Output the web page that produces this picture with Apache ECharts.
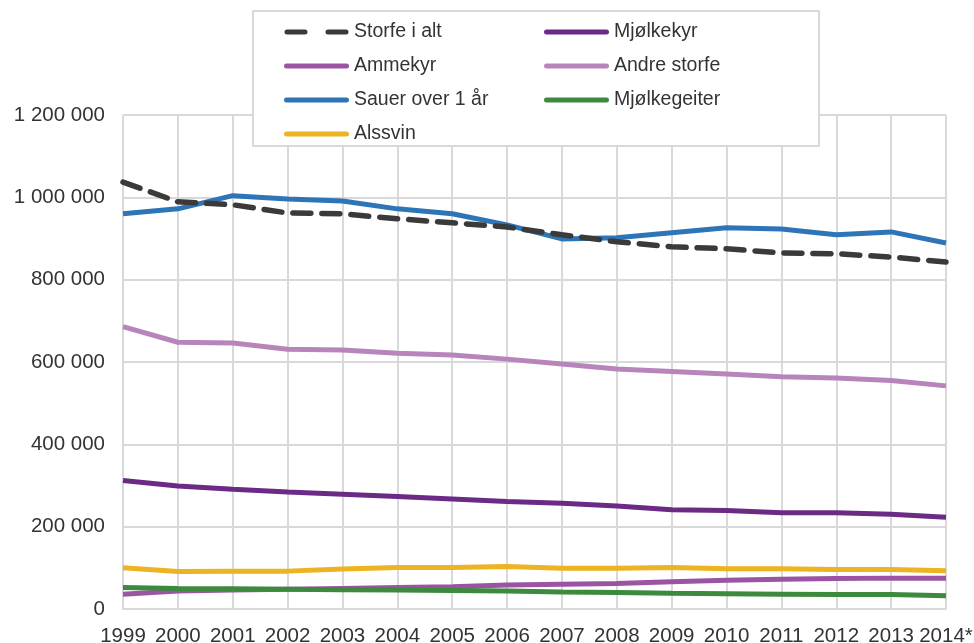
<!DOCTYPE html>
<html>
<head>
<meta charset="utf-8">
<script src="https://cdn.jsdelivr.net/npm/echarts@6/dist/echarts.min.js"></script>
<style>html,body{margin:0;padding:0;background:#fff}#c{width:974px;height:643px}</style>
</head>
<body>
<div id="c"></div>
<script>
var years = ['1999','2000','2001','2002','2003','2004','2005','2006','2007','2008','2009','2010','2011','2012','2013','2014*'];
var storfeIAlt   = [1037000, 989000, 982000, 962000, 960000, 948000, 938000, 928000, 909000, 892000, 880000, 875000, 865000, 863000, 855000, 843000];
var mjolkekyr    = [312000, 299000, 291000, 284000, 279000, 273000, 267000, 261000, 257000, 250000, 241000, 239000, 234000, 234000, 230000, 223000];
var ammekyr      = [36000, 44000, 46000, 48000, 50000, 52000, 54000, 58000, 60000, 62000, 66000, 70000, 72000, 74000, 75000, 75000];
var andreStorfe  = [686000, 648000, 646000, 631000, 629000, 621000, 617000, 607000, 595000, 583000, 577000, 571000, 564000, 561000, 555000, 542000];
var sauer        = [960000, 972000, 1004000, 996000, 991000, 972000, 960000, 933000, 899000, 902000, 914000, 926000, 923000, 909000, 916000, 889000];
var mjolkegeiter = [52000, 50000, 49000, 48000, 47000, 46000, 45000, 44000, 41000, 40000, 38000, 37000, 36000, 35000, 35000, 32000];
var alssvin      = [100000, 91000, 92000, 92000, 97000, 101000, 101000, 103000, 99000, 99000, 101000, 98000, 98000, 96000, 96000, 93000];
var yTicks = [0, 200000, 400000, 600000, 800000, 1000000, 1200000];

var names = ['Storfe i alt','Mjølkekyr','Ammekyr','Andre storfe','Sauer over 1 år','Mjølkegeiter','Alssvin'];
var colors = ['#3a3a3a','#6a2a86','#9a54a3','#b784bc','#2e75b8','#3d8a3f','#ecb322'];
var datas = [storfeIAlt, mjolkekyr, ammekyr, andreStorfe, sauer, mjolkegeiter, alssvin];

var FONT = 'Liberation Sans, Arial, sans-serif';
var TXT = '#333333';
function fmt(v){ return String(v).replace(/\B(?=(\d{3})+(?!\d))/g, ' '); }

var SOLID_ICON = 'path://M2.5,0h60a2.5,2.5 0 0 1 0,5h-60a2.5,2.5 0 0 1 0,-5z';
var DASH_ICON = 'path://M2.5,0h18a2.5,2.5 0 0 1 0,5h-18a2.5,2.5 0 0 1 0,-5z M43.5,0h18a2.5,2.5 0 0 1 0,5h-18a2.5,2.5 0 0 1 0,-5z';

var series = names.map(function(n, i){
  return {
    name: n, type: 'line', data: datas[i], showSymbol: false, symbol: 'none',
    lineStyle: { color: colors[i], width: i === 0 ? 5.5 : 5, type: i === 0 ? [18, 11] : 'solid', cap: i === 0 ? 'round' : 'butt' },
    itemStyle: { color: colors[i] },
    z: 2 + (i === 0 ? 6 : 0)
  };
});

function legendData(list){
  return list.map(function(n){ return { name: n, icon: n === 'Storfe i alt' ? DASH_ICON : SOLID_ICON }; });
}

var legendCommon = {
  orient: 'vertical', itemWidth: 65, itemHeight: 5, itemGap: 14,
  textStyle: { fontFamily: FONT, fontSize: 19.5, color: TXT, lineHeight: 20 },
  z: 10
};

var chart = echarts.init(document.getElementById('c'), null, { renderer: 'canvas' });
chart.setOption({
  animation: false,
  backgroundColor: '#fff',
  color: colors,
  graphic: [{
    type: 'rect', z: 9, left: 252, top: 10,
    shape: { width: 566, height: 135 },
    style: { fill: '#fff', stroke: '#d9d9d9', lineWidth: 2 }
  }],
  legend: [
    Object.assign({}, legendCommon, { left: 279, top: 17, data: legendData(['Storfe i alt','Ammekyr','Sauer over 1 år','Alssvin']) }),
    Object.assign({}, legendCommon, { left: 539, top: 17, data: legendData(['Mjølkekyr','Andre storfe','Mjølkegeiter']) })
  ],
  grid: { left: 123, right: 28, top: 115, bottom: 34, containLabel: false, outerBoundsMode: 'none' },
  xAxis: {
    type: 'category', data: years, boundaryGap: false,
    axisTick: { show: false },
    axisLine: { lineStyle: { color: '#d9d9d9', width: 2 } },
    splitLine: { show: true, interval: 0, lineStyle: { color: '#d9d9d9', width: 2 } },
    axisLabel: { interval: 0, margin: 17, fontFamily: FONT, fontSize: 20.5, color: TXT }
  },
  yAxis: {
    type: 'value', min: yTicks[0], max: yTicks[yTicks.length-1], interval: yTicks[1]-yTicks[0],
    axisLine: { show: false }, axisTick: { show: false },
    splitLine: { lineStyle: { color: '#d9d9d9', width: 2 } },
    axisLabel: { margin: 18, fontFamily: FONT, fontSize: 20.5, color: TXT, formatter: fmt }
  },
  series: series
});
</script>
</body>
</html>
